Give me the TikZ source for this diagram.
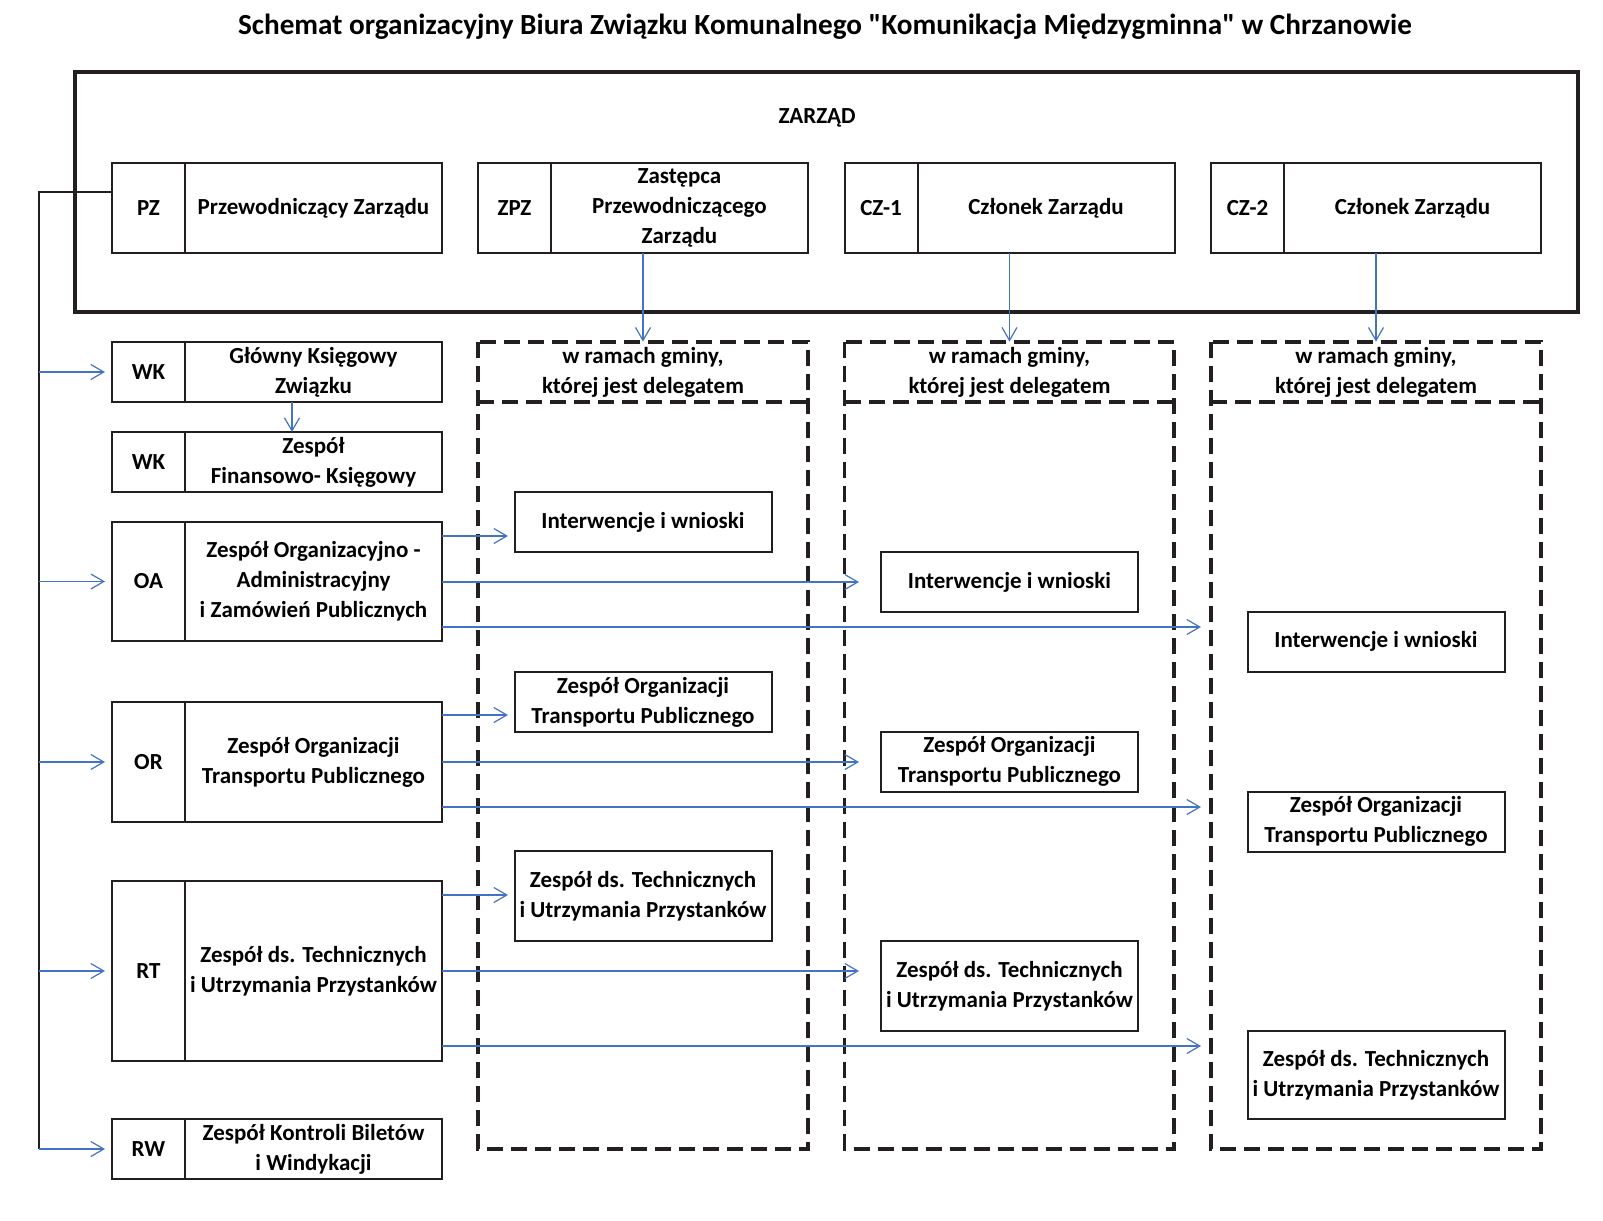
\documentclass[tikz,border=0pt]{standalone}
\usepackage{fontspec}
\setmainfont{Carlito}[Ligatures=TeXOff]
\usetikzlibrary{arrows.meta}
\definecolor{ln}{HTML}{231F20}
\definecolor{bl}{HTML}{4472C4}
\tikzset{
  cbox/.style={draw=ln, line width=1pt, minimum width=36.5pt, inner sep=0pt, outer sep=0pt, anchor=north west},
  nbox/.style={draw=ln, line width=1pt, minimum width=128.5pt, inner sep=0pt, outer sep=0pt, align=center, anchor=north west},
  colbox/.style={draw=ln, line width=1pt, minimum width=128.5pt, inner sep=0pt, align=center},
  dashbox/.style={draw=ln, line width=1.6pt, dash pattern=on 8pt off 4pt},
  hdr/.style={minimum width=165pt, minimum height=30pt, inner sep=0pt, align=center},
  arr/.style={draw=bl, line width=0.6pt, -{Straight Barb[length=6.5pt,width=7.5pt]}},
  spine/.style={draw=ln, line width=1pt},
}
\newcommand\unitbox[6]{%
  \node[cbox, minimum height=#4*0.5pt] (#1c) at (#2,#3) {#5};
  \node[nbox, minimum height=#4*0.5pt] (#1n) at (#1c.north east) {#6};
}
\begin{document}
\begin{tikzpicture}[x=0.5pt,y=-0.5pt, font=\fontsize{11.5}{15}\selectfont\bfseries]
\useasboundingbox (0,0) rectangle (1603,1221);
% title
\node[font=\fontsize{14.6}{17}\selectfont\bfseries, inner sep=0pt] (title) at (825,27)
  {Schemat organizacyjny Biura Związku Komunalnego "Komunikacja Międzygminna" w Chrzanowie};
% board
\node[draw=ln, line width=2pt, minimum width=751.5pt, minimum height=120pt, inner sep=0pt] (board) at (826.5,192) {};
\node[inner sep=0pt] (zarzad) at (817,118) {ZARZĄD};
\unitbox{pz}{112}{163}{90}{PZ}{Przewodniczący Zarządu}
\unitbox{zpz}{478}{163}{90}{ZPZ}{Zastępca\\Przewodniczącego\\Zarządu}
\unitbox{cza}{844.5}{163}{90}{CZ-1}{Członek Zarządu}
\unitbox{czb}{1211}{163}{90}{CZ-2}{Członek Zarządu}
% left units
\unitbox{wka}{112}{342}{60}{WK}{Główny Księgowy\\Związku}
\unitbox{wkb}{112}{432}{60}{WK}{Zespół\\Finansowo- Księgowy}
\unitbox{oa}{112}{522}{119}{OA}{Zespół Organizacyjno -\\Administracyjny\\i Zamówień Publicznych}
\unitbox{or}{112}{702}{120}{OR}{Zespół Organizacji\\Transportu Publicznego}
\unitbox{rt}{112}{881}{180}{RT}{Zespół ds. Technicznych\\i Utrzymania Przystanków}
\unitbox{rw}{112}{1119}{60}{RW}{Zespół Kontroli Biletów\\i Windykacji}
% dashed columns
\draw[dashbox] (478,342) rectangle (808,1149);
\draw[dashbox] (478,402) -- (808,402);
\draw[dashbox] (844.5,342) rectangle (1174,1149);
\draw[dashbox] (844.5,402) -- (1174,402);
\draw[dashbox] (1211,342) rectangle (1541,1149);
\draw[dashbox] (1211,402) -- (1541,402);
\node[hdr] (hdra) at (643,372) {w ramach gminy,\\której jest delegatem};
\node[hdr] (hdrb) at (1009.5,372) {w ramach gminy,\\której jest delegatem};
\node[hdr] (hdrc) at (1376,372) {w ramach gminy,\\której jest delegatem};
% column boxes
\node[colbox, minimum height=30pt] (iwa) at (643,522) {Interwencje i wnioski};
\node[colbox, minimum height=30pt] (iwb) at (1009.5,582) {Interwencje i wnioski};
\node[colbox, minimum height=30pt] (iwc) at (1376,641.5) {Interwencje i wnioski};
\node[colbox, minimum height=30pt] (zta) at (643,702) {Zespół Organizacji\\Transportu Publicznego};
\node[colbox, minimum height=30pt] (ztb) at (1009.5,761.5) {Zespół Organizacji\\Transportu Publicznego};
\node[colbox, minimum height=30pt] (ztc) at (1376,821.5) {Zespół Organizacji\\Transportu Publicznego};
\node[colbox, minimum height=45pt] (tua) at (643,896) {Zespół ds. Technicznych\\i Utrzymania Przystanków};
\node[colbox, minimum height=45pt] (tub) at (1009.5,986) {Zespół ds. Technicznych\\i Utrzymania Przystanków};
\node[colbox, minimum height=44pt] (tuc) at (1376,1075) {Zespół ds. Technicznych\\i Utrzymania Przystanków};
% spine
\coordinate (spT) at (39,192);
\coordinate (spB) at (39,1149);
\draw[spine] (pzc.west |- spT) -- (spT) -- (spB);
\foreach \u in {wka,oa,or,rt,rw}{
  \draw[arr] (spT |- \u c.west) -- ([xshift=-3.5pt]\u c.west);
}
% WK down arrow
\coordinate (wkx) at (292,0);
\draw[arr] (wkan.south -| wkx) -- (wkbn.north -| wkx);
% board members to columns
\draw[arr] (zpzn.south -| hdra.north) -- (hdra.north);
\draw[arr] (czan.south -| hdrb.north) -- (hdrb.north);
\draw[arr] (czbn.south -| hdrc.north) -- (hdrc.north);
% team arrows
\coordinate (oa1) at (508,536);
\coordinate (oa2) at (859,582);
\coordinate (oa3) at (1201,627);
\coordinate (or1) at (508,715);
\coordinate (or2) at (859,762);
\coordinate (or3) at (1201,807);
\coordinate (rt1) at (508,895);
\coordinate (rt2) at (859,971);
\coordinate (rt3) at (1201,1046);
\foreach \u in {oa,or,rt}{
  \foreach \k in {1,2,3}{
    \draw[arr] (\u n.east |- \u\k) -- (\u\k);
  }
}
\end{tikzpicture}
\end{document}
